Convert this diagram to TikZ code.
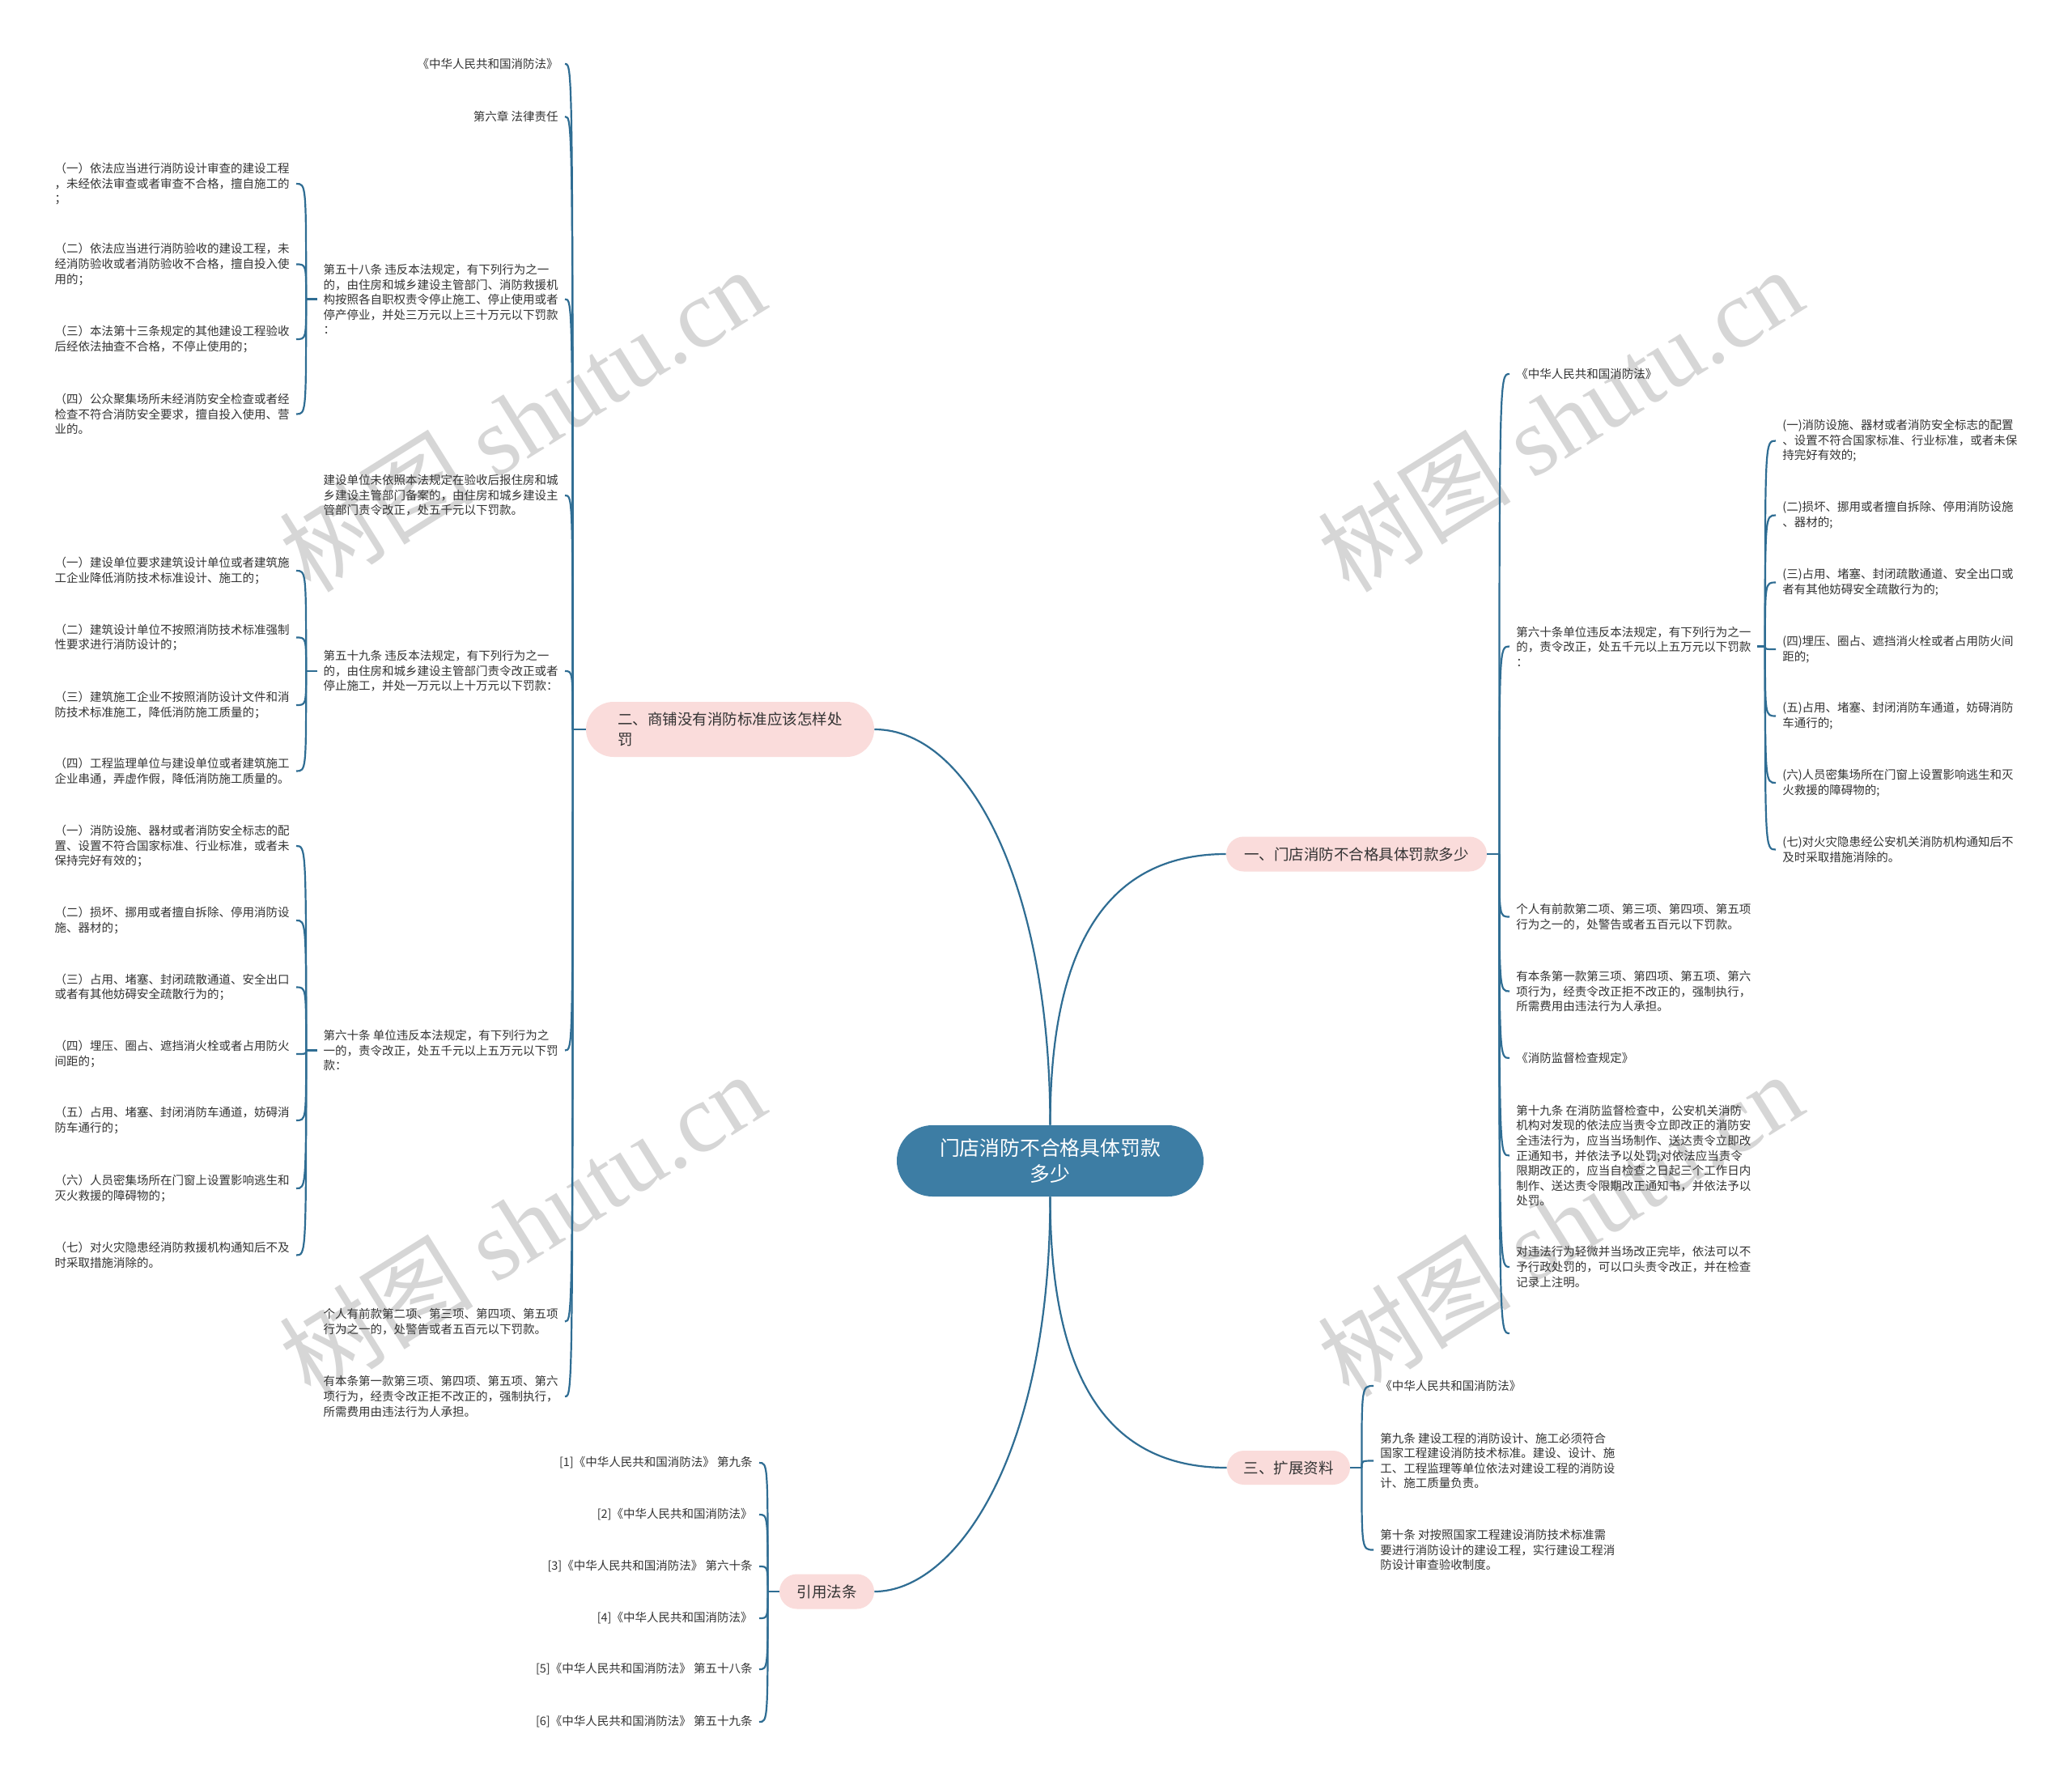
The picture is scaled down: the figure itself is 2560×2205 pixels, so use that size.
\documentclass[tikz,border=0pt]{standalone}
\usepackage{fontspec}
\setmainfont{Noto Sans CJK SC}
\newfontfamily\wmlatin{Liberation Serif}
\definecolor{lc}{HTML}{2F6D93}
\definecolor{rootc}{HTML}{3D7DA4}
\definecolor{pk}{HTML}{FADCDB}
\definecolor{tc}{HTML}{333333}
\definecolor{wm}{HTML}{D6D6D6}
\tikzset{
  link/.style={draw=lc, line width=1.1pt},
  leaf/.style={inner sep=0pt, text=tc, align=left, font=\fontsize{7.25pt}{9.3pt}\selectfont},
  rootn/.style={fill=rootc, text=white, rounded corners=22pt, minimum width=189.5pt, minimum height=44pt, inner sep=0pt, align=center, font=\fontsize{12.4pt}{16pt}\selectfont},
  brn/.style={fill=pk, text=tc, inner sep=0pt, align=left, font=\fontsize{9.25pt}{12.5pt}\selectfont},
  wmark/.style={text=wm, rotate=32, inner sep=0pt, font=\fontsize{60pt}{60pt}\selectfont},
}
\begin{document}
\begin{tikzpicture}[x=0.5pt,y=-0.5pt]
\useasboundingbox (0,0) rectangle (2560,2205);
\fill[white] (0,0) rectangle (2560,2205);

% watermarks
\node[wmark] (w1) at (645,518) {树图 {\wmlatin shutu.cn}};
\node[wmark] (w2) at (1927,518) {树图 {\wmlatin shutu.cn}};
\node[wmark] (w3) at (645,1512) {树图 {\wmlatin shutu.cn}};
\node[wmark] (w4) at (1927,1512) {树图 {\wmlatin shutu.cn}};

% root and main branches
\node[rootn] (root) at (1297.5,1434) {门店消防不合格具体罚款\\多少};
\node[brn, rounded corners=10.75pt, minimum width=161pt, minimum height=21.5pt, align=center] (b1) at (1676,1055) {一、门店消防不合格具体罚款多少};
\node[brn, rounded corners=17pt, minimum width=178pt, minimum height=34pt] (b2) at (902,901) {二、商铺没有消防标准应该怎样处\\罚};
\node[brn, rounded corners=10.5pt, minimum width=76pt, minimum height=21pt, align=center] (b3) at (1592,1813) {三、扩展资料};
\node[brn, rounded corners=10.75pt, minimum width=58.5pt, minimum height=21.5pt, align=center] (b4) at (1021.5,1966) {引用法条};

\draw[link] (root.north) .. controls (1297.5,1100) and (1200,901) .. (b2.east);
\draw[link] (root.north) .. controls (1297.5,1150) and (1380,1055) .. (b1.west);
\draw[link] (root.south) .. controls (1297.5,1720) and (1380,1813) .. (b3.west);
\draw[link] (root.south) .. controls (1297.5,1800) and (1180,1966) .. (b4.east);

% ---------- branch 2 (left) ----------
\node[leaf, anchor=east] (l1) at (690,79) {《中华人民共和国消防法》};
\node[leaf, anchor=east] (l2) at (690,144) {第六章 法律责任};
\node[leaf, anchor=east] (l3) at (690,369.5) {第五十八条 违反本法规定，有下列行为之一\\的，由住房和城乡建设主管部门、消防救援机\\构按照各自职权责令停止施工、停止使用或者\\停产停业，并处三万元以上三十万元以下罚款\\：};
\node[leaf, anchor=east] (l4) at (690,612) {建设单位未依照本法规定在验收后报住房和城\\乡建设主管部门备案的，由住房和城乡建设主\\管部门责令改正，处五千元以下罚款。};
\node[leaf, anchor=east] (l5) at (690,829) {第五十九条 违反本法规定，有下列行为之一\\的，由住房和城乡建设主管部门责令改正或者\\停止施工，并处一万元以上十万元以下罚款：};
\node[leaf, anchor=east] (l6) at (690,1297.5) {第六十条 单位违反本法规定，有下列行为之\\一的，责令改正，处五千元以上五万元以下罚\\款：};
\node[leaf, anchor=east] (l7) at (690,1632.5) {个人有前款第二项、第三项、第四项、第五项\\行为之一的，处警告或者五百元以下罚款。};
\node[leaf, anchor=east] (l8) at (690,1725) {有本条第一款第三项、第四项、第五项、第六\\项行为，经责令改正拒不改正的，强制执行，\\所需费用由违法行为人承担。};

\node[leaf, anchor=east] (l3a) at (358,227) {（一）依法应当进行消防设计审查的建设工程\\，未经依法审查或者审查不合格，擅自施工的\\；};
\node[leaf, anchor=east] (l3b) at (358,326.5) {（二）依法应当进行消防验收的建设工程，未\\经消防验收或者消防验收不合格，擅自投入使\\用的；};
\node[leaf, anchor=east] (l3c) at (358,419) {（三）本法第十三条规定的其他建设工程验收\\后经依法抽查不合格，不停止使用的；};
\node[leaf, anchor=east] (l3d) at (358,511.5) {（四）公众聚集场所未经消防安全检查或者经\\检查不符合消防安全要求，擅自投入使用、营\\业的。};

\node[leaf, anchor=east] (l5a) at (358,705) {（一）建设单位要求建筑设计单位或者建筑施\\工企业降低消防技术标准设计、施工的；};
\node[leaf, anchor=east] (l5b) at (358,787.5) {（二）建筑设计单位不按照消防技术标准强制\\性要求进行消防设计的；};
\node[leaf, anchor=east] (l5c) at (358,871) {（三）建筑施工企业不按照消防设计文件和消\\防技术标准施工，降低消防施工质量的；};
\node[leaf, anchor=east] (l5d) at (358,952.5) {（四）工程监理单位与建设单位或者建筑施工\\企业串通，弄虚作假，降低消防施工质量的。};

\node[leaf, anchor=east] (l6a) at (358,1045) {（一）消防设施、器材或者消防安全标志的配\\置、设置不符合国家标准、行业标准，或者未\\保持完好有效的；};
\node[leaf, anchor=east] (l6b) at (358,1137) {（二）损坏、挪用或者擅自拆除、停用消防设\\施、器材的；};
\node[leaf, anchor=east] (l6c) at (358,1219.5) {（三）占用、堵塞、封闭疏散通道、安全出口\\或者有其他妨碍安全疏散行为的；};
\node[leaf, anchor=east] (l6d) at (358,1302) {（四）埋压、圈占、遮挡消火栓或者占用防火\\间距的；};
\node[leaf, anchor=east] (l6e) at (358,1384) {（五）占用、堵塞、封闭消防车通道，妨碍消\\防车通行的；};
\node[leaf, anchor=east] (l6f) at (358,1468) {（六）人员密集场所在门窗上设置影响逃生和\\灭火救援的障碍物的；};
\node[leaf, anchor=east] (l6g) at (358,1550.5) {（七）对火灾隐患经消防救援机构通知后不及\\时采取措施消除的。};

\coordinate (J2) at ([xshift=-8pt]b2.west);
\draw[link] (b2.west) -- (J2);
\foreach \n in {l1,l2,l3,l4,l5,l6,l7,l8}
  \draw[link] (J2) .. controls (J2 |- \n.east) and (J2 |- \n.east) .. ([xshift=4pt]\n.east);

\foreach \p/\kids in {l3/{l3a,l3b,l3c,l3d}, l5/{l5a,l5b,l5c,l5d}, l6/{l6a,l6b,l6c,l6d,l6e,l6f,l6g}} {
  \coordinate (J\p) at ([xshift=-10.5pt]\p.west);
  \draw[link] ([xshift=-3.5pt]\p.west) -- (J\p);
  \foreach \n in \kids
    \draw[link] (J\p) .. controls (J\p |- \n.east) and (J\p |- \n.east) .. ([xshift=4pt]\n.east);
}

% ---------- branch 1 (right) ----------
\node[leaf, anchor=west] (r1) at (1873,462) {《中华人民共和国消防法》};
\node[leaf, anchor=west] (r2) at (1873,798.5) {第六十条单位违反本法规定，有下列行为之一\\的，责令改正，处五千元以上五万元以下罚款\\：};
\node[leaf, anchor=west] (r3) at (1873,1132.5) {个人有前款第二项、第三项、第四项、第五项\\行为之一的，处警告或者五百元以下罚款。};
\node[leaf, anchor=west] (r4) at (1873,1224.5) {有本条第一款第三项、第四项、第五项、第六\\项行为，经责令改正拒不改正的，强制执行，\\所需费用由违法行为人承担。};
\node[leaf, anchor=west] (r5) at (1873,1307) {《消防监督检查规定》};
\node[leaf, anchor=west] (r6) at (1873,1427.5) {第十九条 在消防监督检查中，公安机关消防\\机构对发现的依法应当责令立即改正的消防安\\全违法行为，应当当场制作、送达责令立即改\\正通知书，并依法予以处罚;对依法应当责令\\限期改正的，应当自检查之日起三个工作日内\\制作、送达责令限期改正通知书，并依法予以\\处罚。};
\node[leaf, anchor=west] (r7) at (1873,1565) {对违法行为轻微并当场改正完毕，依法可以不\\予行政处罚的，可以口头责令改正，并在检查\\记录上注明。};
\coordinate (r8) at (1873,1647);

\node[leaf, anchor=west] (r2a) at (2202,544.5) {(一)消防设施、器材或者消防安全标志的配置\\、设置不符合国家标准、行业标准，或者未保\\持完好有效的;};
\node[leaf, anchor=west] (r2b) at (2202,636.5) {(二)损坏、挪用或者擅自拆除、停用消防设施\\、器材的;};
\node[leaf, anchor=west] (r2c) at (2202,719.5) {(三)占用、堵塞、封闭疏散通道、安全出口或\\者有其他妨碍安全疏散行为的;};
\node[leaf, anchor=west] (r2d) at (2202,802) {(四)埋压、圈占、遮挡消火栓或者占用防火间\\距的;};
\node[leaf, anchor=west] (r2e) at (2202,884.5) {(五)占用、堵塞、封闭消防车通道，妨碍消防\\车通行的;};
\node[leaf, anchor=west] (r2f) at (2202,967) {(六)人员密集场所在门窗上设置影响逃生和灭\\火救援的障碍物的;};
\node[leaf, anchor=west] (r2g) at (2202,1049.5) {(七)对火灾隐患经公安机关消防机构通知后不\\及时采取措施消除的。};

\coordinate (J1) at ([xshift=7.5pt]b1.east);
\draw[link] (b1.east) -- (J1);
\foreach \n in {r1,r2,r3,r4,r5,r6,r7}
  \draw[link] (J1) .. controls (J1 |- \n.west) and (J1 |- \n.west) .. ([xshift=-4pt]\n.west);
\draw[link] (J1) .. controls (J1 |- r8) and (J1 |- r8) .. ([xshift=-4pt]r8);

\coordinate (Jr2) at ([xshift=8.5pt]r2.east);
\draw[link] ([xshift=3.5pt]r2.east) -- (Jr2);
\foreach \n in {r2a,r2b,r2c,r2d,r2e,r2f,r2g}
  \draw[link] (Jr2) .. controls (Jr2 |- \n.west) and (Jr2 |- \n.west) .. ([xshift=-4pt]\n.west);

% ---------- branch 3 ----------
\node[leaf, anchor=west] (e1) at (1705,1712) {《中华人民共和国消防法》};
\node[leaf, anchor=west] (e2) at (1705,1804.5) {第九条 建设工程的消防设计、施工必须符合\\国家工程建设消防技术标准。建设、设计、施\\工、工程监理等单位依法对建设工程的消防设\\计、施工质量负责。};
\node[leaf, anchor=west] (e3) at (1705,1914.5) {第十条 对按照国家工程建设消防技术标准需\\要进行消防设计的建设工程，实行建设工程消\\防设计审查验收制度。};

\coordinate (J3) at ([xshift=7pt]b3.east);
\draw[link] (b3.east) -- (J3);
\foreach \n in {e1,e2,e3}
  \draw[link] (J3) .. controls (J3 |- \n.west) and (J3 |- \n.west) .. ([xshift=-4pt]\n.west);

% ---------- branch 4 ----------
\node[leaf, anchor=east] (c1) at (930,1807) {[1]《中华人民共和国消防法》 第九条};
\node[leaf, anchor=east] (c2) at (930,1871) {[2]《中华人民共和国消防法》};
\node[leaf, anchor=east] (c3) at (930,1935) {[3]《中华人民共和国消防法》 第六十条};
\node[leaf, anchor=east] (c4) at (930,1999) {[4]《中华人民共和国消防法》};
\node[leaf, anchor=east] (c5) at (930,2062) {[5]《中华人民共和国消防法》 第五十八条};
\node[leaf, anchor=east] (c6) at (930,2127) {[6]《中华人民共和国消防法》 第五十九条};

\coordinate (J4) at ([xshift=-7pt]b4.west);
\draw[link] (b4.west) -- (J4);
\foreach \n in {c1,c2,c3,c4,c5,c6}
  \draw[link] (J4) .. controls (J4 |- \n.east) and (J4 |- \n.east) .. ([xshift=4pt]\n.east);
\end{tikzpicture}
\end{document}
